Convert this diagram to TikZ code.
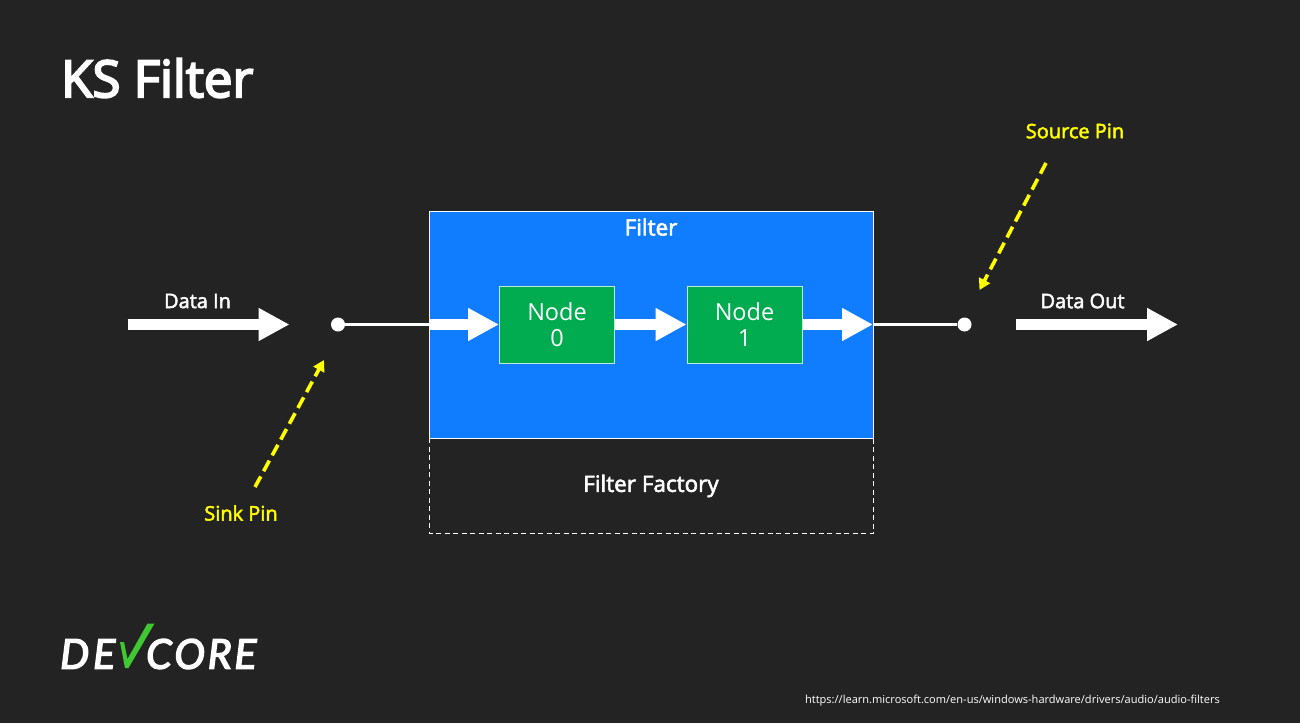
\documentclass[tikz,border=0pt]{standalone}
\usepackage{fontspec}
\setmainfont{Open Sans}
\newfontfamily\logofont[FakeBold=3.5]{Lato Italic}
\newfontfamily\titlefont[FakeBold=4]{Open Sans}
\newfontfamily\heavyfont[FakeBold=2.5]{Open Sans}
\usetikzlibrary{arrows.meta}
\definecolor{slidebg}{HTML}{232323}
\definecolor{filterblue}{HTML}{107CFF}
\definecolor{nodegreen}{HTML}{00AC4F}
\definecolor{pinyellow}{HTML}{FFFF00}
\definecolor{checkgreen}{HTML}{3FC832}
\tikzset{
  fatarrow/.style={white, line width=11pt, -{Triangle[length=31pt, width=31pt]}},
  pinline/.style={white, line width=3.5pt},
  pindot/.style={circle, fill=white, inner sep=0pt, minimum size=14pt},
  hintarrow/.style={pinyellow, line width=3.6pt, dash pattern=on 12pt off 6pt, -{Triangle[length=11pt, width=12pt]}},
  labeltext/.style={white, font=\heavyfont\fontsize{20}{22}\selectfont},
  pintext/.style={pinyellow, font=\heavyfont\fontsize{20}{22}\selectfont},
  boxnode/.style={draw=white!75!nodegreen, line width=1pt, fill=nodegreen, text=white, align=center,
    minimum width=115pt, minimum height=77pt, inner sep=0pt, font=\fontsize{23.5}{27}\selectfont},
}
\begin{document}
\begin{tikzpicture}[x=1pt, y=-1pt]
  \fill[slidebg] (0, 0) rectangle (1300, 723);
  \useasboundingbox (0, 0) rectangle (1300, 723);
  \node[white, anchor=west, inner sep=0pt, font=\titlefont\fontsize{51}{56}\selectfont] (title) at (61, 78) {KS Filter};

  % filter and factory
  \draw[white, line width=1pt, dash pattern=on 5pt off 3.5pt] (429.5, 438) rectangle (873, 533.5);
  \node[draw=white, line width=1pt, fill=filterblue, minimum width=444pt, minimum height=227pt, inner sep=0pt] (filter) at (651, 324.5) {};
  \node[labeltext, font=\heavyfont\fontsize{22.5}{24}\selectfont, inner sep=0pt] (filterlabel) at (651, 227) {Filter};
  \node[labeltext, font=\heavyfont\fontsize{22.5}{24}\selectfont, inner sep=0pt] (factorylabel) at (651, 486) {Filter Factory};
  \node[boxnode] (node0) at (557, 324.5) {Node\\[-1pt]0};
  \node[boxnode] (node1) at (744.5, 324.5) {Node\\[-1pt]1};

  % pins
  \node[pindot] (sink) at (338, 324.5) {};
  \node[pindot] (source) at (964.5, 324.5) {};
  \coordinate (filterin) at (429, 324.5);
  \coordinate (filterout) at (873, 324.5);
  \draw[pinline] (sink) -- (filterin);
  \draw[pinline] (filterout) -- (source);
  \draw[fatarrow] (filterin) -- (node0.west |- filterin);
  \draw[fatarrow] (node0.east |- filterin) -- (node1.west |- filterin);
  \draw[fatarrow] (node1.east |- filterin) -- (filterout);

  % data in and out
  \coordinate (instart) at (127.5, 324.5);
  \coordinate (inend) at (289.5, 324.5);
  \coordinate (outstart) at (1016, 324.5);
  \coordinate (outend) at (1178, 324.5);
  \draw[fatarrow] (instart) -- (inend);
  \draw[fatarrow] (outstart) -- (outend);
  \node[labeltext, inner sep=0pt] (datain) at (197.5, 301) {Data In};
  \node[labeltext, inner sep=0pt] (dataout) at (1082.5, 301) {Data Out};

  % hints
  \node[pintext, inner sep=0pt] (sinklabel) at (241, 513) {Sink Pin};
  \node[pintext, inner sep=0pt] (sourcelabel) at (1075, 131) {Source Pin};
  \coordinate (sinkstart) at (255, 487);
  \coordinate (sinkend) at (324, 360);
  \coordinate (sourcestart) at (1046, 163);
  \coordinate (sourceend) at (979.5, 290);
  \draw[hintarrow] (sinkstart) -- (sinkend);
  \draw[hintarrow] (sourcestart) -- (sourceend);

  % logo
  \node[white, anchor=west, inner sep=0pt, font=\logofont\fontsize{41}{44}\selectfont] (logode) at (60, 654) {D\kern4pt E};
  \node[white, anchor=west, inner sep=0pt, font=\logofont\fontsize{41}{44}\selectfont] (logocore) at (146, 654) {C\kern2.7pt O\kern2.7pt R\kern2.7pt E};
  \fill[checkgreen] (120, 642) -- (124, 642) -- (127.5, 659) -- (147.5, 623.5) -- (154.5, 623.5) -- (128.5, 668) -- (125, 668) -- cycle;

  \node[white, anchor=east, inner sep=0pt, font=\fontsize{11.05}{13}\selectfont] (link) at (1220, 701) {https://learn.microsoft.com/en-us/windows-hardware/drivers/audio/audio-filters};
\end{tikzpicture}
\end{document}
